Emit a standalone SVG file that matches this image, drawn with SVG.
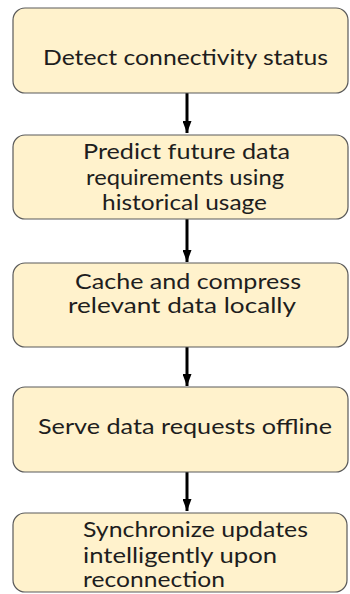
<svg xmlns="http://www.w3.org/2000/svg" width="350" height="594" viewBox="0 0 350 594">
<defs>
<style>
.box{fill:#FFF2CC;stroke:#5a5a5a;stroke-width:1.2}
.t{font-family:Lato,"Open Sans","Liberation Sans",sans-serif;font-size:20.5px;fill:#1e1e1e}
.e{stroke:#000;stroke-width:3;fill:none}
</style>
<marker id="ah" viewBox="0 0 12 9" refX="12" refY="4.5" markerWidth="12" markerHeight="9" markerUnits="userSpaceOnUse" orient="auto">
<path d="M0,0 L12,4.5 L0,9 Z" fill="#000"/>
</marker>
</defs>
<rect width="350" height="594" fill="#fff"/>
<g id="connectors">
<line class="e" x1="187" y1="93" x2="187" y2="133" marker-end="url(#ah)"/>
<line class="e" x1="187" y1="219" x2="187" y2="262" marker-end="url(#ah)"/>
<line class="e" x1="187" y1="347" x2="187" y2="386" marker-end="url(#ah)"/>
<line class="e" x1="187" y1="472" x2="187" y2="511" marker-end="url(#ah)"/>
</g>
<g id="n1">
<rect class="box" x="13" y="8" width="335" height="85" rx="12"/>
<text class="t" x="43" y="65" textLength="285" lengthAdjust="spacingAndGlyphs">Detect connectivity status</text>
</g>
<g id="n2">
<rect class="box" x="13" y="135" width="335" height="84" rx="12"/>
<text class="t" x="83" y="159" textLength="207" lengthAdjust="spacingAndGlyphs">Predict future data</text>
<text class="t" x="86" y="185" textLength="198" lengthAdjust="spacingAndGlyphs">requirements using</text>
<text class="t" x="102" y="210" textLength="165" lengthAdjust="spacingAndGlyphs">historical usage</text>
</g>
<g id="n3">
<rect class="box" x="13" y="263" width="335" height="84" rx="12"/>
<text class="t" x="75" y="289" textLength="226" lengthAdjust="spacingAndGlyphs">Cache and compress</text>
<text class="t" x="68" y="313" textLength="228" lengthAdjust="spacingAndGlyphs">relevant data locally</text>
</g>
<g id="n4">
<rect class="box" x="13" y="387" width="335" height="85" rx="12"/>
<text class="t" x="38" y="434" textLength="294" lengthAdjust="spacingAndGlyphs">Serve data requests offline</text>
</g>
<g id="n5">
<rect class="box" x="13" y="513" width="334" height="79" rx="12"/>
<text class="t" x="83" y="537" textLength="225" lengthAdjust="spacingAndGlyphs">Synchronize updates</text>
<text class="t" x="83" y="563" textLength="194" lengthAdjust="spacingAndGlyphs">intelligently upon</text>
<text class="t" x="83" y="587" textLength="142" lengthAdjust="spacingAndGlyphs">reconnection</text>
</g>
</svg>
